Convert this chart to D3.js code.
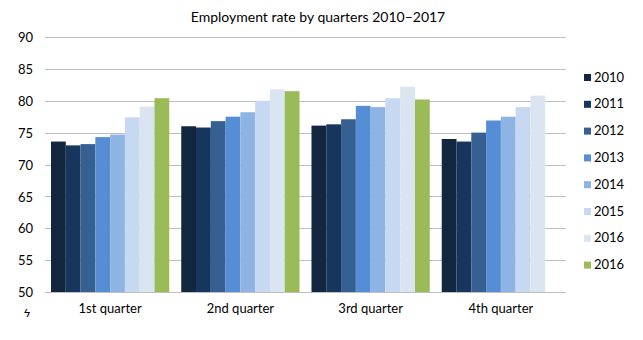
<!DOCTYPE html>
<html>
<head>
<meta charset="utf-8">
<script src="https://cdn.jsdelivr.net/npm/d3@7"></script>
<style>
  html, body { margin: 0; padding: 0; background: #fff; }
  svg { display: block; }
  text { font-family: Lato, "Open Sans", sans-serif; fill: #000; }
</style>
</head>
<body>
<svg id="chart" width="643" height="340"></svg>
<script>
// Employment rate (%) by quarter, one series per year
const quarters = ["1st quarter", "2nd quarter", "3rd quarter", "4th quarter"];
const seriesNames = ["2010", "2011", "2012", "2013", "2014", "2015", "2016", "2016"];
const values2010 = [73.6, 76.0, 76.1, 74.0];
const values2011 = [73.0, 75.8, 76.3, 73.6];
const values2012 = [73.2, 76.8, 77.1, 75.0];
const values2013 = [74.3, 77.5, 79.2, 76.9];
const values2014 = [74.7, 78.2, 79.0, 77.5];
const values2015 = [77.4, 80.0, 80.4, 79.0];
const values2016a = [79.1, 81.8, 82.2, 80.8];
const values2016b = [80.4, 81.5, 80.2, null];
const seriesValues = [values2010, values2011, values2012, values2013, values2014, values2015, values2016a, values2016b];
const seriesColors = ["#13263f", "#17365d", "#366092", "#558ed5", "#8eb4e3", "#c6d9f1", "#dbe5f1", "#9bbb59"];
const yTicks = [50, 55, 60, 65, 70, 75, 80, 85, 90];

const svg = d3.select("#chart");

const x0 = d3.scaleBand().domain(quarters).range([45, 566]).paddingInner(0.092).paddingOuter(0.046);
const x1 = d3.scaleBand().domain(d3.range(seriesNames.length)).range([0, x0.bandwidth()]);
const y = d3.scaleLinear().domain([50, 90]).range([292, 37]);

// horizontal gridlines
svg.append("g").selectAll("line").data(yTicks).join("line")
  .attr("x1", 45).attr("x2", 566)
  .attr("y1", d => Math.round(y(d)) + 0.5).attr("y2", d => Math.round(y(d)) + 0.5)
  .attr("stroke", "#bfbfbf").attr("stroke-width", 1);

// y axis labels
const yAxis = d3.axisLeft(y).tickValues(yTicks).tickSize(0).tickPadding(0);
const yg = svg.append("g").attr("transform", "translate(33,0)").call(yAxis);
yg.select(".domain").remove();
yg.selectAll("text").attr("font-size", 13).attr("font-family", "Lato, sans-serif").attr("fill", "#000").attr("dy", "0.36em");

// bars
const groups = svg.append("g").selectAll("g").data(quarters).join("g")
  .attr("transform", d => `translate(${x0(d)},0)`);
groups.selectAll("rect")
  .data((q, qi) => seriesValues.map((vals, si) => ({ si, v: vals[qi] })).filter(d => d.v != null))
  .join("rect")
  .attr("x", d => x1(d.si))
  .attr("width", x1.bandwidth())
  .attr("y", d => y(d.v))
  .attr("height", d => y(50) - y(d.v))
  .attr("fill", d => seriesColors[d.si]);

// category labels
const xAxis = d3.axisBottom(x0).tickSize(0).tickPadding(0);
const xg = svg.append("g").attr("transform", "translate(0,304)").call(xAxis);
xg.select(".domain").remove();
xg.selectAll("text").attr("font-size", 13).attr("font-family", "Lato, sans-serif").attr("fill", "#000");

// axis break mark
svg.append("text").attr("x", 27).attr("y", 315).attr("text-anchor", "middle")
  .attr("font-size", 12).text("ϟ");

// title
svg.append("text").attr("x", 318).attr("y", 22).attr("text-anchor", "middle")
  .attr("font-size", 14).text("Employment rate by quarters 2010–2017");

// legend
const legend = svg.append("g").selectAll("g").data(seriesNames).join("g")
  .attr("transform", (d, i) => `translate(584,${77 + i * 26.8})`);
legend.append("rect").attr("x", 0).attr("y", -3).attr("width", 7).attr("height", 7)
  .attr("fill", (d, i) => seriesColors[i]);
legend.append("text").attr("x", 10).attr("y", 0).attr("dy", "0.36em")
  .attr("font-size", 13).text(d => d);
</script>
</body>
</html>
